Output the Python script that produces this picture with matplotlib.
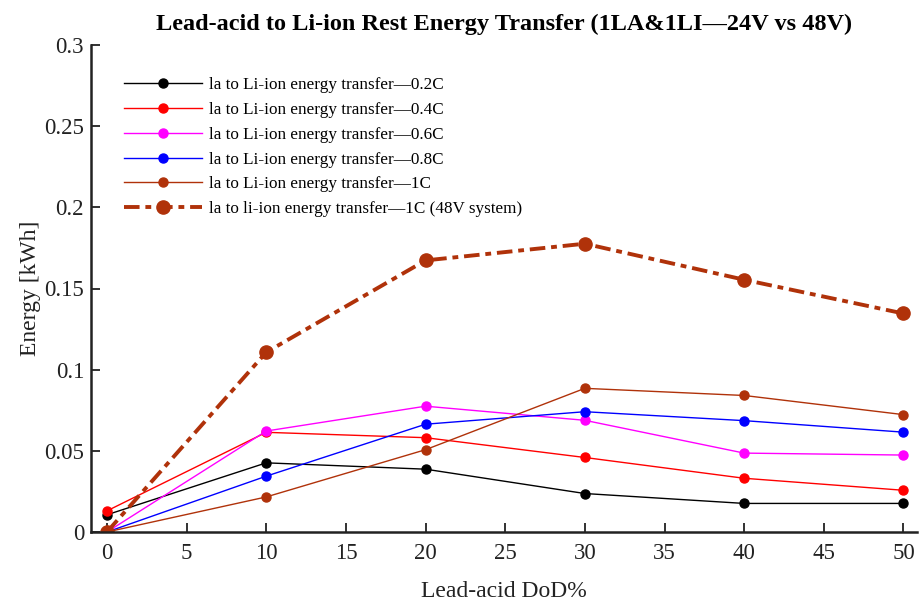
import matplotlib
matplotlib.use("Agg")
import matplotlib.pyplot as plt

plt.rcParams["font.family"] = ["Liberation Serif", "DejaVu Serif"]

dod = [0, 10, 20, 30, 40, 50]

e_02c = [0.0106, 0.0426, 0.0387, 0.0237, 0.0176, 0.0176]
e_04c = [0.0130, 0.0614, 0.0581, 0.0459, 0.0331, 0.0257]
e_06c = [0.0, 0.0622, 0.0775, 0.0688, 0.0486, 0.0474]
e_08c = [0.0, 0.0344, 0.0664, 0.0741, 0.0686, 0.0615]
e_1c = [0.0, 0.0216, 0.0507, 0.0885, 0.0841, 0.0723]
e_1c_48v = [0.0, 0.1107, 0.1673, 0.1776, 0.1554, 0.1346]

labels = [
    "la to Li-ion energy transfer\u20140.2C",
    "la to Li-ion energy transfer\u20140.4C",
    "la to Li-ion energy transfer\u20140.6C",
    "la to Li-ion energy transfer\u20140.8C",
    "la to Li-ion energy transfer\u20141C",
    "la to li-ion energy transfer\u20141C (48V system)",
]

xticks = [0, 5, 10, 15, 20, 25, 30, 35, 40, 45, 50]
yticks = [0, 0.05, 0.1, 0.15, 0.2, 0.25, 0.3]
ytick_labels = ["0", "0.05", "0.1", "0.15", "0.2", "0.25", "0.3"]

brown = "#b0320a"
ink = "#222222"

fig = plt.figure(figsize=(9.22, 6.06), dpi=100)
ax = fig.add_axes([91 / 922, 1 - 532 / 606, (917 - 91) / 922, (532 - 45) / 606])

thin = dict(lw=1.0, marker="o", ms=6.5)
ax.plot(dod, e_02c, color="black", label=labels[0], **thin)
ax.plot(dod, e_04c, color="#ff0000", label=labels[1], **thin)
ax.plot(dod, e_06c, color="#ff00ff", label=labels[2], **thin)
ax.plot(dod, e_08c, color="#0000ff", label=labels[3], **thin)
ax.plot(dod, e_1c, color=brown, label=labels[4], **thin)
ax.plot(dod, e_1c_48v, color=brown, lw=2.8, marker="o", ms=9.5,
        dashes=(4, 1.5, 1.5, 1.5), label=labels[5])

ax.set_xlim(-1.0, 50.85)
ax.set_ylim(0, 0.3)
ax.set_xticks(xticks)
ax.set_xticklabels([str(t) for t in xticks])
ax.set_yticks(yticks)
ax.set_yticklabels(ytick_labels)

for side in ("top", "right"):
    ax.spines[side].set_visible(False)
for side in ("left", "bottom"):
    ax.spines[side].set_linewidth(1.8)
    ax.spines[side].set_color(ink)

ax.tick_params(direction="in", length=6.5, width=1.3, labelsize=16.5,
               colors=ink)
ax.tick_params(axis="x", pad=8)
ax.tick_params(axis="y", pad=5)

ax.set_xlabel("Lead-acid DoD%", fontsize=17, color=ink, labelpad=12)
ax.set_ylabel("Energy [kWh]", fontsize=17, color=ink)
ax.yaxis.set_label_coords(-0.061, 0.5)
ax.set_title("Lead-acid to Li-ion Rest Energy Transfer (1LA&1LI\u201424V vs 48V)",
             fontsize=17.5, fontweight="bold", pad=11)

ax.legend(loc="upper left", bbox_to_anchor=(0.025, 0.958), frameon=False,
          fontsize=12.3, handlelength=4.6, handletextpad=0.42,
          labelspacing=0.51, borderaxespad=0.3)

fig.savefig("out.png", dpi=100)
